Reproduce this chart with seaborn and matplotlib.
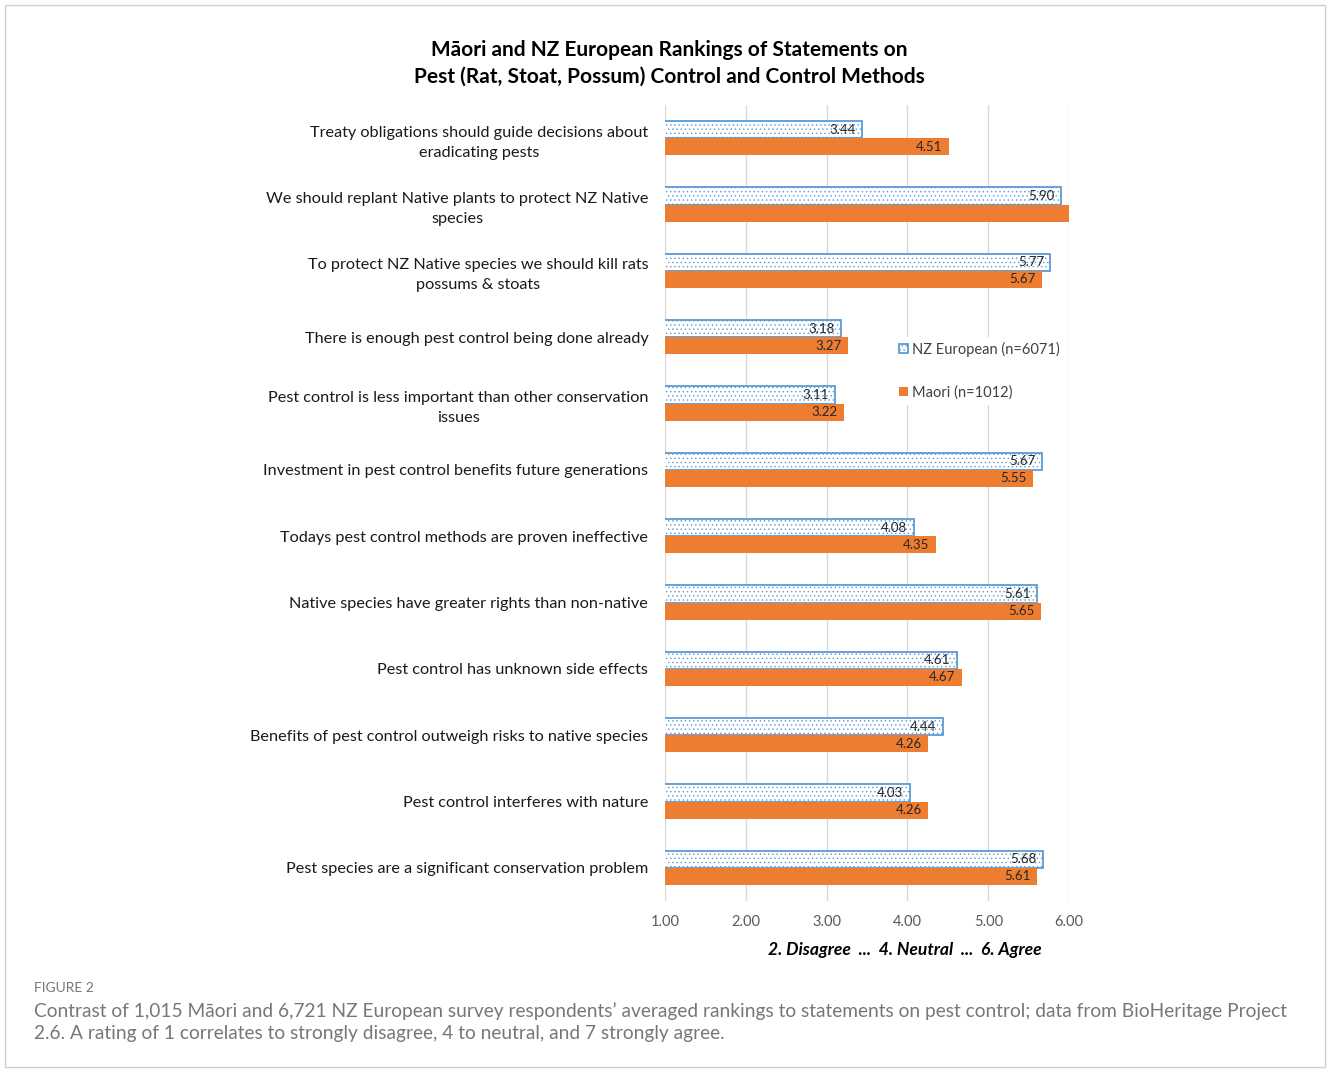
import matplotlib
matplotlib.use("Agg")
import matplotlib.pyplot as plt
import matplotlib.patches as mpatches
import seaborn as sns
import pandas as pd

statements = [
    "Treaty obligations should guide decisions about\neradicating pests",
    "We should replant Native plants to protect NZ Native\nspecies",
    "To protect NZ Native species we should kill rats\npossums & stoats",
    "There is enough pest control being done already",
    "Pest control is less important than other conservation\nissues",
    "Investment in pest control benefits future generations",
    "Todays pest control methods are proven ineffective",
    "Native species have greater rights than non-native",
    "Pest control has unknown side effects",
    "Benefits of pest control outweigh risks to native species",
    "Pest control interferes with nature",
    "Pest species are a significant conservation problem",
]
nz_european = [3.44, 5.90, 5.77, 3.18, 3.11, 5.67, 4.08, 5.61, 4.61, 4.44, 4.03, 5.68]
maori = [4.51, 6.20, 5.67, 3.27, 3.22, 5.55, 4.35, 5.65, 4.67, 4.26, 4.26, 5.61]
series_names = ["NZ European (n=6071)", "Maori (n=1012)"]
x_ticks = [1, 2, 3, 4, 5, 6]

df = pd.DataFrame({
    "statement": statements * 2,
    "value": nz_european + maori,
    "group": [series_names[0]] * len(statements) + [series_names[1]] * len(statements),
})

sns.set_theme(style="white")
plt.rcParams["font.family"] = ["Lato", "DejaVu Sans"]

W, H = 1328, 1069
fig = plt.figure(figsize=(W / 100, H / 100), dpi=100)
ax = fig.add_axes([665 / W, 1 - 901 / H, (1069 - 665) / W, (901 - 105) / H])

blue = "#5B9BD5"
orange = "#ED7D31"
plt.rcParams["hatch.linewidth"] = 0.5

sns.barplot(data=df, y="statement", x="value", hue="group", order=statements,
            hue_order=series_names, palette=["white", orange], width=0.52,
            orient="h", ax=ax, legend=False, saturation=1)

xmax = 6
ax.set_xlim(1, xmax)
ax.set_ylim(len(statements) - 0.5, -0.5)

# style series
for p in ax.containers[0]:
    p.set_facecolor("white")
    p.set_edgecolor(blue)
    p.set_hatch("....")
    p.set_linewidth(1.3)
for p in ax.containers[1]:
    p.set_edgecolor("none")

# value labels
for cont, vals in zip(ax.containers, [nz_european, maori]):
    for p, v in zip(cont, vals):
        if v > xmax:
            continue
        y = p.get_y() + p.get_height() / 2
        ax.text(v - 0.08, y, f"{v:.2f}", ha="right", va="center", fontsize=9.5,
                color="#262626")

ax.set_xticks(x_ticks)
ax.set_xticklabels([f"{t:.2f}" for t in x_ticks], fontsize=10.5, color="#595959")
ax.tick_params(axis="x", length=0, pad=10)
ax.tick_params(axis="y", length=0, pad=12)
for lbl in ax.get_yticklabels():
    lbl.set_fontsize(11.7)
    lbl.set_multialignment("center")
    lbl.set_linespacing(1.55)
    lbl.set_color("#1a1a1a")
ax.grid(axis="x", color="#D9D9D9", linewidth=1)
ax.set_axisbelow(True)
for s in ax.spines.values():
    s.set_visible(False)
ax.set_xlabel("")
ax.set_ylabel("")

# legend
h1 = mpatches.Patch(facecolor="white", edgecolor=blue, hatch="....", linewidth=1.3)
h2 = mpatches.Patch(facecolor=orange, edgecolor="none")
leg = fig.legend([h1, h2], series_names, loc="upper left",
                 bbox_to_anchor=(887 / W, 1 - 330 / H), frameon=True, fontsize=10.5,
                 handlelength=0.65, handleheight=0.65, handletextpad=0.25,
                 labelspacing=1.95, borderpad=0.3, framealpha=1)
leg.get_frame().set_edgecolor("white")
leg.get_frame().set_facecolor("white")
for t in leg.get_texts():
    t.set_color("#404040")

# title
fig.text(669 / W, 1 - 63 / H,
         "Māori and NZ European Rankings of Statements on\nPest (Rat, Stoat, Possum) Control and Control Methods",
         ha="center", va="center", fontsize=15, fontweight="bold", linespacing=1.42,
         color="#000000")

# axis description
fig.text(905 / W, 1 - 950 / H, "2. Disagree  ...  4. Neutral  ...  6. Agree",
         ha="center", va="center", fontsize=12.6, fontweight="bold", style="italic",
         color="#000000")

# caption
fig.text(34 / W, 1 - 988 / H, "FIGURE 2", ha="left", va="center", fontsize=10,
         color="#777777")
fig.text(34 / W, 1 - 1011 / H,
         "Contrast of 1,015 Māori and 6,721 NZ European survey respondents’ averaged rankings to statements on pest control; data from BioHeritage Project",
         ha="left", va="center", fontsize=13.8, color="#777777")
fig.text(34 / W, 1 - 1034 / H,
         "2.6. A rating of 1 correlates to strongly disagree, 4 to neutral, and 7 strongly agree.",
         ha="left", va="center", fontsize=13.8, color="#777777")

# outer border
fig.patches.append(mpatches.Rectangle((5 / W, 2 / H), 1320 / W, (1062) / H,
                                      transform=fig.transFigure, fill=False,
                                      edgecolor="#D0D0D0", linewidth=1))

fig.savefig("out.png", dpi=100)
